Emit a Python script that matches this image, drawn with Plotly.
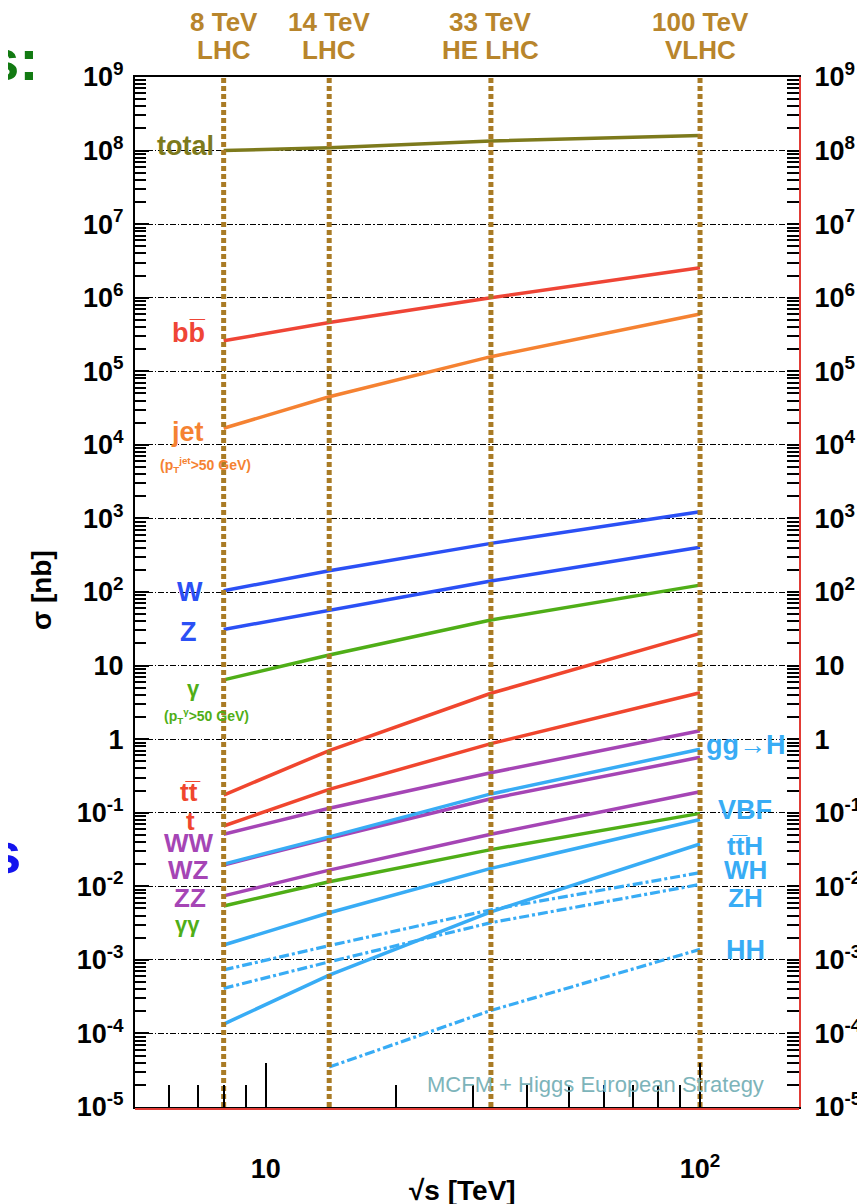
import numpy as np
import plotly.graph_objects as go

# ---------------- data ----------------
collider_energies = [8, 14, 33, 100]
collider_top = ["8 TeV", "14 TeV", "33 TeV", "100 TeV"]
collider_bottom = ["LHC", "LHC", "HE LHC", "VLHC"]

sqrt_s = [8, 14, 33, 100]
sqrt_s_hh = [14, 33, 100]

xs_total = [1.0e8, 1.09e8, 1.35e8, 1.6e8]
xs_bb = [2.6e5, 4.6e5, 1.0e6, 2.56e6]
xs_jet = [1.68e4, 4.5e4, 1.58e5, 6.0e5]
xs_w = [104, 195, 458, 1235]
xs_z = [31, 57, 141, 405]
xs_gamma = [6.4, 13.9, 41.6, 124]
xs_ttbar = [0.174, 0.70, 4.2, 27.4]
xs_t = [0.066, 0.208, 0.87, 4.28]
xs_ww = [0.051, 0.115, 0.35, 1.30]
xs_wz = [0.0195, 0.045, 0.155, 0.566]
xs_zz = [0.0074, 0.0166, 0.051, 0.193]
xs_gamgam = [0.0054, 0.0115, 0.0315, 0.098]
xs_ggh = [0.020, 0.047, 0.18, 0.73]
xs_vbf = [0.00159, 0.00437, 0.0175, 0.081]
xs_tth = [1.34e-4, 6.2e-4, 4.5e-3, 0.0376]
xs_wh = [7.3e-4, 1.56e-3, 4.8e-3, 0.0153]
xs_zh = [4.1e-4, 9.4e-4, 3.2e-3, 0.0106]
xs_hh = [3.5e-5, 2.05e-4, 1.39e-3]

decades = list(range(-5, 10))
decade_labels = {1: "10", 0: "1"}

# ---------------- style ----------------
FONT = "Liberation Sans, Arial, Helvetica, sans-serif"
C_TOTAL = "#7d7a1c"
C_BB = "#ef4536"
C_JET = "#f58232"
C_WZ = "#2b50f5"
C_GAM = "#4fae17"
C_TOP = "#f0462e"
C_VV = "#a545b5"
C_H = "#38acf5"
C_GOLD = "#a97b25"
C_GOLD_TXT = "#b8852c"
C_WM = "#7db4ba"
SOLID_W = 3.5
DASHDOT = "10px,3px,3px,3px"

# page body has an 8px margin: shift the figure margins to compensate
OFF = 8
ML, MT, PW, PH = 135, 77, 664, 1030

series = [
    (sqrt_s, xs_total, C_TOTAL, "solid"),
    (sqrt_s, xs_bb, C_BB, "solid"),
    (sqrt_s, xs_jet, C_JET, "solid"),
    (sqrt_s, xs_w, C_WZ, "solid"),
    (sqrt_s, xs_z, C_WZ, "solid"),
    (sqrt_s, xs_gamma, C_GAM, "solid"),
    (sqrt_s, xs_ttbar, C_TOP, "solid"),
    (sqrt_s, xs_t, C_TOP, "solid"),
    (sqrt_s, xs_ww, C_VV, "solid"),
    (sqrt_s, xs_wz, C_VV, "solid"),
    (sqrt_s, xs_zz, C_VV, "solid"),
    (sqrt_s, xs_gamgam, C_GAM, "solid"),
    (sqrt_s, xs_ggh, C_H, "solid"),
    (sqrt_s, xs_vbf, C_H, "solid"),
    (sqrt_s, xs_tth, C_H, "solid"),
    (sqrt_s, xs_wh, C_H, DASHDOT),
    (sqrt_s, xs_zh, C_H, DASHDOT),
    (sqrt_s_hh, xs_hh, C_H, DASHDOT),
]

fig = go.Figure()
for xv, yv, col, dash in series:
    fig.add_trace(go.Scatter(
        x=xv, y=yv, mode="lines",
        line=dict(color=col, width=SOLID_W if dash == "solid" else 3.2, dash=dash),
        hoverinfo="skip", showlegend=False))

ymin, ymax = 10.0 ** decades[0], 10.0 ** decades[-1]
for e in collider_energies:
    fig.add_trace(go.Scatter(
        x=[e, e], y=[ymin, ymax], mode="lines",
        line=dict(color=C_GOLD, width=5, dash="5px,3px"),
        hoverinfo="skip", showlegend=False))

# ---------------- axes ----------------
xr = [np.log10(5), np.log10(169)]
yr = [decades[0], decades[-1]]
x_minor = [6, 7, 8, 9, 20, 30, 40, 50, 60, 70, 80, 90]
y_minor = [m * 10.0 ** k for k in decades[:-1] for m in range(2, 10)]


def dec_label(k):
    return decade_labels.get(k, "10<sup>%d</sup>" % k)


tickfont = dict(family=FONT, size=27, color="black", weight="bold")

fig.update_layout(
    width=865, height=1204,
    margin=dict(l=ML - OFF, r=865 - (ML - OFF) - PW, t=MT - OFF,
                b=1204 - (MT - OFF) - PH, autoexpand=False),
    paper_bgcolor="white", plot_bgcolor="white",
    showlegend=False,
    template="none",
    xaxis=dict(type="log", range=xr, tickvals=[10, 100],
               ticktext=["10", "10<sup>2</sup>"], ticks="inside", ticklen=44,
               tickwidth=1.5, tickcolor="black", showline=True, linecolor="black",
               linewidth=2, showgrid=False, zeroline=False, tickfont=tickfont,
               ticklabelstandoff=37, automargin=False),
    xaxis2=dict(type="log", range=xr, overlaying="x", anchor="y", side="bottom",
                tickvals=x_minor, ticks="inside", ticklen=22, tickwidth=1.5,
                tickcolor="black", showticklabels=False, showline=False,
                showgrid=False, zeroline=False, automargin=False),
    xaxis3=dict(type="log", range=xr, overlaying="x", anchor="y", side="top",
                ticks="", showticklabels=False, showline=True, linecolor="black",
                linewidth=2, showgrid=False, zeroline=False, automargin=False),
    yaxis=dict(type="log", range=yr, tickvals=[10.0 ** k for k in decades],
               ticktext=[dec_label(k) for k in decades], ticks="inside", ticklen=14,
               tickwidth=1.5, tickcolor="black", showline=True, linecolor="black",
               linewidth=2, showgrid=True, gridcolor="black", gridwidth=1.3,
               griddash="6px,2px,1.5px,2px", zeroline=False, tickfont=tickfont,
               ticklabelstandoff=4, automargin=False),
    yaxis2=dict(type="log", range=yr, overlaying="y", anchor="x", side="left",
                tickvals=y_minor, ticks="inside", ticklen=11, tickwidth=1.5,
                tickcolor="black", showticklabels=False, showline=False,
                showgrid=False, zeroline=False, automargin=False),
    yaxis3=dict(type="log", range=yr, overlaying="y", anchor="x", side="right",
                tickvals=[10.0 ** k for k in decades] + y_minor,
                ticktext=[dec_label(k) for k in decades] + [""] * len(y_minor),
                ticks="inside", ticklen=12, tickwidth=1.5, tickcolor="black",
                showline=True, linecolor="#e23b35", linewidth=2, showgrid=False,
                zeroline=False, tickfont=tickfont, ticklabelstandoff=8,
                automargin=False),
)

# red edge under bottom frame
fig.add_shape(type="line", xref="paper", yref="paper", x0=0, x1=1,
              ysizemode="pixel", yanchor=0, y0=-2, y1=-2,
              line=dict(color="#e23b35", width=2))

# dummy traces to activate overlay axes
for xa, ya in [("x2", "y2"), ("x3", "y3")]:
    fig.add_trace(go.Scatter(x=[10], y=[1], xaxis=xa, yaxis=ya, mode="markers",
                             marker=dict(opacity=0), hoverinfo="skip",
                             showlegend=False))

# ---------------- annotations ----------------
ann = []


def label(text, lx, ly, color, size=27, weight="bold", xanchor="center"):
    ann.append(dict(text=text, x=np.log10(lx), y=ly, xref="x", yref="y",
                    showarrow=False, xanchor=xanchor, yanchor="middle",
                    font=dict(family=FONT, size=size, color=color, weight=weight)))


label("total", 6.55, 8.062, C_TOTAL)
label("bb\u0305", 6.65, 5.52, C_BB)
label("jet", 6.6, 4.175, C_JET)
label("(p<sub>T</sub><sup>jet</sup>&gt;50 GeV)", 7.28, 3.726, C_JET, size=14)
label("W", 6.7, 2.0, C_WZ)
label("Z", 6.65, 1.456, C_WZ)
label("\u03b3", 6.8, 0.695, C_GAM, size=22)
label("(p<sub>T</sub><sup>\u03b3</sup>&gt;50 GeV)", 7.3, 0.314, C_GAM, size=14)
label("tt\u0305", 6.7, -0.72, C_TOP, size=26)
label("t", 6.7, -1.113, C_TOP, size=26)
label("WW", 6.65, -1.412, C_VV, size=26)
label("WZ", 6.65, -1.779, C_VV, size=26)
label("ZZ", 6.7, -2.159, C_VV, size=26)
label("\u03b3\u03b3", 6.62, -2.513, C_GAM, size=22)

RX = 127
label("gg\u2192H", RX, -0.080, C_H)
label("VBF", RX, -0.963, C_H)
label("tt\u0305H", RX, -1.45, C_H, size=26)
label("WH", RX, -1.779, C_H, size=26)
label("ZH", RX, -2.159, C_H, size=26)
label("HH", RX, -2.866, C_H)
label("MCFM + Higgs European Strategy", 57.5, -4.70, C_WM, size=22, weight="normal")

for e, t1, t2 in zip(collider_energies, collider_top, collider_bottom):
    for txt, py in [(t1, 22), (t2, 50)]:
        ann.append(dict(text=txt, x=np.log10(e), y=1 + (MT - py) / float(PH),
                        xref="x", yref="paper", showarrow=False, xanchor="center",
                        yanchor="middle",
                        font=dict(family=FONT, size=26, color=C_GOLD_TXT,
                                  weight="bold")))


def px_x(px):
    return (px - ML) / float(PW)


def px_y(py):
    return (MT + PH - py) / float(PH)


# axis titles
ann.append(dict(text="\u03c3 [nb]", x=px_x(41), y=px_y(590),
                xref="paper", yref="paper", showarrow=False, textangle=-90,
                xanchor="center", yanchor="middle",
                font=dict(family=FONT, size=28, color="black", weight="bold")))
ann.append(dict(text="\u221as [TeV]", x=px_x(462), y=px_y(1190),
                xref="paper", yref="paper", showarrow=False,
                xanchor="center", yanchor="middle",
                font=dict(family=FONT, size=28, color="black", weight="bold")))

# cut-off slide text on the left edge
for txt, rx, cy, col in [("s:", 41, 60, "#127a12"), ("s", 9, 175, "#1414ee"),
                         ("s", 23, 853, "#1414ee")]:
    ann.append(dict(text=txt, x=px_x(rx), y=px_y(cy),
                    xref="paper", yref="paper", showarrow=False,
                    xanchor="right", yanchor="middle",
                    font=dict(family=FONT, size=58, color=col, weight="bold")))

fig.update_layout(annotations=ann)
fig.write_html("out.html")
